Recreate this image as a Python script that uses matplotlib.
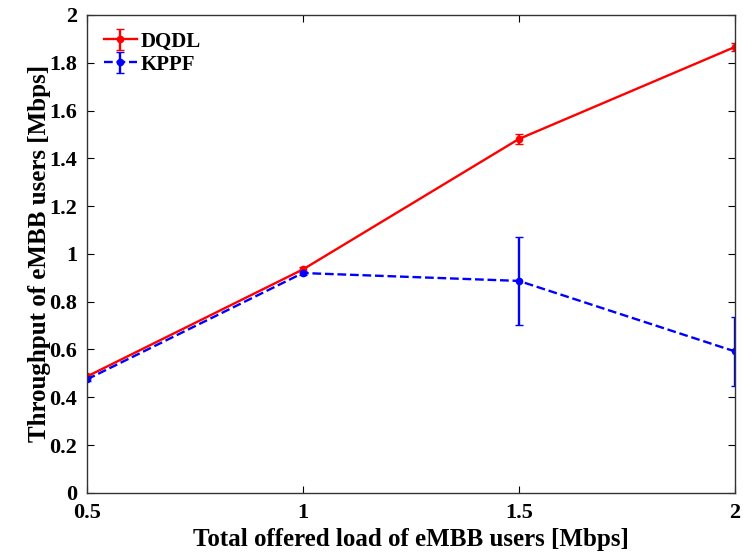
import matplotlib
matplotlib.use("Agg")
import matplotlib.pyplot as plt
import numpy as np

plt.rcParams['font.family'] = ['Liberation Serif', 'DejaVu Serif']
plt.rcParams['font.weight'] = 'bold'

load = [0.5, 1.0, 1.5, 2.0]
dqdl = [0.487, 0.935, 1.481, 1.866]
dqdl_err = [0.008, 0.01, 0.02, 0.015]
kppf = [0.475, 0.92, 0.887, 0.592]
kppf_err = [0.008, 0.008, 0.184, 0.144]

fig = plt.figure(figsize=(7.43, 5.55), dpi=100)
ax = fig.add_axes([0.117, 0.112, 0.872, 0.861])

ax.errorbar(load, dqdl, yerr=dqdl_err, color='r', linestyle='-', marker='o',
            markersize=4.5, linewidth=1.7, capsize=3, elinewidth=1.7, label='DQDL')
ax.errorbar(load, kppf, yerr=kppf_err, color='b', linestyle='--', marker='o',
            markersize=4.5, linewidth=1.7, capsize=3, elinewidth=1.7, label='KPPF')

ax.set_xlim(0.5, 2)
ax.set_ylim(0, 2)
ax.set_xticks([0.5, 1, 1.5, 2])
ax.set_xticklabels(['0.5', '1', '1.5', '2'])
ax.set_yticks(np.arange(0, 2.01, 0.2))
ax.set_yticklabels(['0', '0.2', '0.4', '0.6', '0.8', '1', '1.2', '1.4', '1.6', '1.8', '2'])
ax.tick_params(direction='in', top=True, right=True, labelsize=16, length=5, width=0.8, pad=7)
for s in ax.spines.values():
    s.set_color('#333333')
    s.set_linewidth(1.0)

ax.set_xlabel("Total offered load of eMBB users [Mbps]", fontsize=18, fontweight='bold', labelpad=4)
ax.set_ylabel("Throughput of eMBB users [Mbps]", fontsize=18, fontweight='bold', labelpad=-1)
ax.legend(loc='upper left', frameon=False, fontsize=15, handlelength=1.6,
          borderaxespad=0.4, handletextpad=0.2, labelspacing=0.15)

plt.savefig("out.png", dpi=100)
plt.close()
